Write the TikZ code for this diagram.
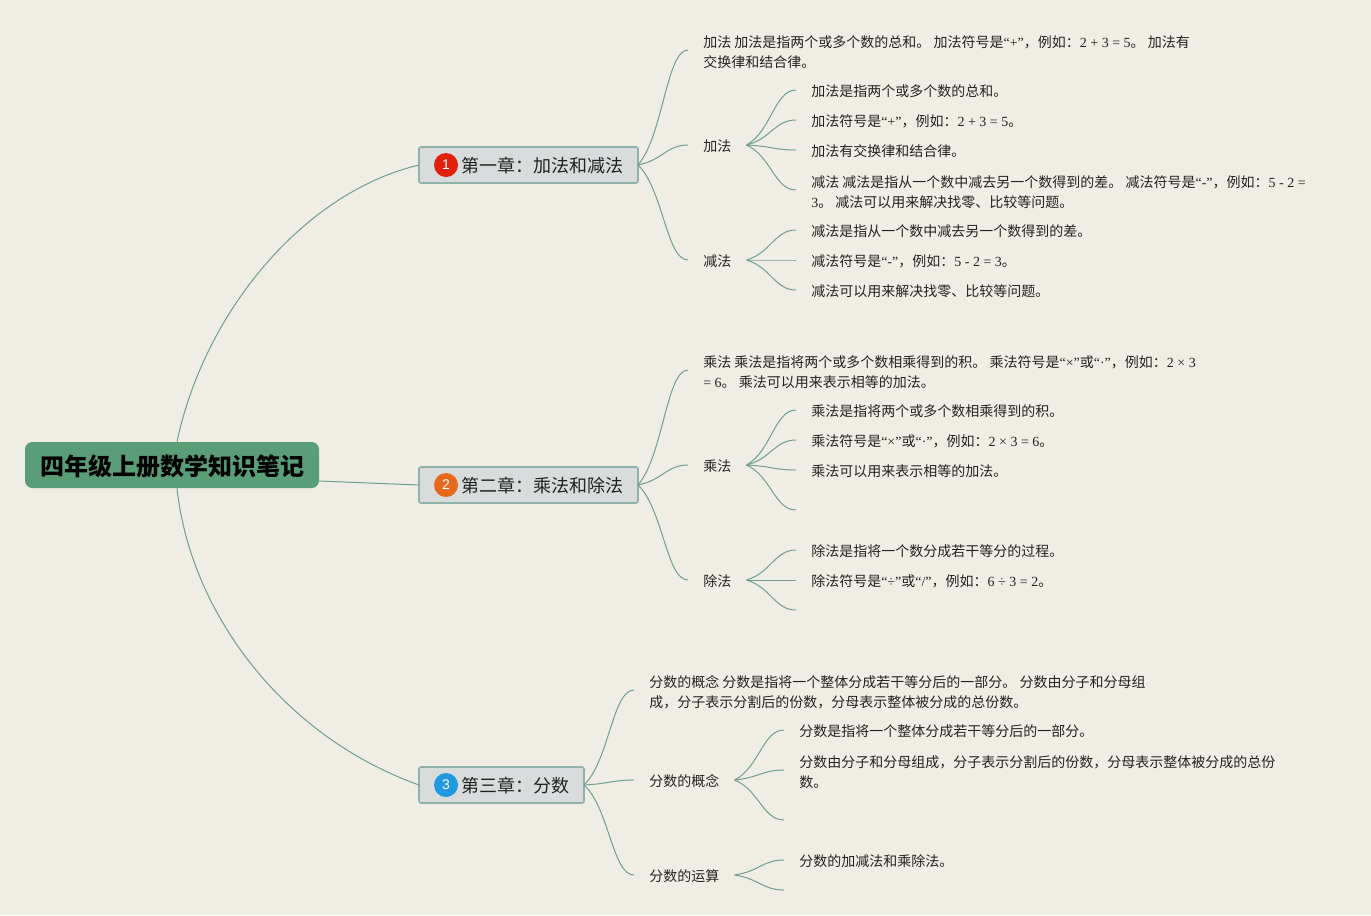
\documentclass[tikz,border=0pt]{standalone}
\usepackage{fontspec}
\setmainfont{Noto Sans CJK SC}
\newfontfamily\latinserif{Liberation Serif}
\newfontfamily\latinsans{Liberation Sans}
\newcommand{\T}[1]{{\latinserif #1}}
\newcommand{\dou}{\char"FF0C\relax}
\newcommand{\mao}{\char"FF1A\relax}
\newcommand{\Z}{\rule[-2pt]{0pt}{12.5pt}}
\newcommand{\Zt}{\rule{0pt}{11pt}}
\usetikzlibrary{calc}
\definecolor{bgcol}{HTML}{F0EEE4}
\definecolor{linecol}{HTML}{6F9E90}
\definecolor{rootcol}{HTML}{5A9E78}
\definecolor{boxfill}{HTML}{D8DCDC}
\definecolor{boxline}{HTML}{8FB3AA}
\definecolor{iconA}{HTML}{E0200A}
\definecolor{iconB}{HTML}{E8691C}
\definecolor{iconC}{HTML}{1F9AE0}
\definecolor{inktext}{HTML}{222222}
\tikzset{
  conn/.style={draw=linecol,line width=0.75pt},
  rootbox/.style={fill=rootcol,rounded corners=5.5pt,minimum width=220.5pt,minimum height=34.5pt,inner sep=0pt,text height=18pt,text depth=2.6pt,font=\fontsize{18pt}{22pt}\selectfont\bfseries,text=black},
  chapbox/.style={anchor=west,outer sep=0pt,draw=boxline,line width=1.2pt,fill=boxfill,rounded corners=1.5pt,minimum height=27pt,inner xsep=11.25pt,inner ysep=0pt,text height=14pt,text depth=2.2pt,font=\fontsize{13.5pt}{16pt}\selectfont,text=inktext},
  iconmark/.style={circle,minimum size=18pt,inner sep=0pt,text=white,font=\latinsans\fontsize{10.5pt}{12pt}\selectfont},
  topic/.style={anchor=west,yshift=-0.75pt,inner xsep=11.25pt,inner ysep=2pt,align=left,font=\fontsize{10.5pt}{15pt}\selectfont,text=inktext,execute at begin node=\Z},
}
\newcommand{\conn}[3][0.75pt]{\draw[conn] let \p1=([yshift=#1]#2),\p2=([yshift=0.75pt]#3) in (\p1) .. controls ({\x1+0.5*(\x2-\x1)},{\y1+0.25*(\y2-\y1)}) and ({\x1+0.57*(\x2-\x1)},\y2) .. (\p2);}
\begin{document}
\begin{tikzpicture}[x=0.75pt,y=-0.75pt]
\path[fill=bgcol,use as bounding box] (0,0) rectangle (1371,915);
% root
\node[rootbox] (root) at (172,465) {四年级上册数学知识笔记};
% chapters
\node[chapbox] (c1) at (419,165) {\hspace*{20.25pt}第一章\mao{}加法和减法};
\node[chapbox] (c2) at (419,485) {\hspace*{20.25pt}第二章\mao{}乘法和除法};
\node[chapbox] (c3) at (419,785) {\hspace*{20.25pt}第三章\mao{}分数};
\node[iconmark,fill=iconA] (i1) at (446,165) {1};
\node[iconmark,fill=iconB] (i2) at (446,485) {2};
\node[iconmark,fill=iconC] (i3) at (446,785) {3};
% chapter 1
\node[topic] (a1) at (688,50) {\Zt{}加法 加法是指两个或多个数的总和。 加法符号是\T{“+”}\dou{}例如\mao{}\T{2 + 3 = 5}。 加法有\\\Z{}交换律和结合律。};
\node[topic] (a2) at (688,145) {加法};
\node[topic] (a3) at (688,260) {减法};
\node[topic] (a21) at (796,90) {加法是指两个或多个数的总和。};
\node[topic] (a22) at (796,120) {加法符号是\T{“+”}\dou{}例如\mao{}\T{2 + 3 = 5}。};
\node[topic] (a23) at (796,150) {加法有交换律和结合律。};
\node[topic] (a24) at (796,190) {\Zt{}减法 减法是指从一个数中减去另一个数得到的差。 减法符号是\T{“-”}\dou{}例如\mao{}\T{5 - 2 =}\\\Z{}\T{3}。 减法可以用来解决找零、比较等问题。};
\node[topic] (a31) at (796,230) {减法是指从一个数中减去另一个数得到的差。};
\node[topic] (a32) at (796,260) {减法符号是\T{“-”}\dou{}例如\mao{}\T{5 - 2 = 3}。};
\node[topic] (a33) at (796,290) {减法可以用来解决找零、比较等问题。};
% chapter 2
\node[topic] (b1) at (688,370) {\Zt{}乘法 乘法是指将两个或多个数相乘得到的积。 乘法符号是\T{“×”}或\T{“·”}\dou{}例如\mao{}\T{2 × 3}\\\Z{}\T{= 6}。 乘法可以用来表示相等的加法。};
\node[topic] (b2) at (688,465) {乘法};
\node[topic] (b3) at (688,580) {除法};
\node[topic] (b21) at (796,410) {乘法是指将两个或多个数相乘得到的积。};
\node[topic] (b22) at (796,440) {乘法符号是\T{“×”}或\T{“·”}\dou{}例如\mao{}\T{2 × 3 = 6}。};
\node[topic] (b23) at (796,470) {乘法可以用来表示相等的加法。};
\coordinate (b24) at (796,511);
\node[topic] (b31) at (796,550) {除法是指将一个数分成若干等分的过程。};
\node[topic] (b32) at (796,580) {除法符号是\T{“÷”}或\T{“/”}\dou{}例如\mao{}\T{6 ÷ 3 = 2}。};
\coordinate (b33) at (796,611);
% chapter 3
\node[topic] (s1) at (634,690) {\Zt{}分数的概念 分数是指将一个整体分成若干等分后的一部分。 分数由分子和分母组\\\Z{}成\dou{}分子表示分割后的份数\dou{}分母表示整体被分成的总份数。};
\node[topic] (s2) at (634,780) {分数的概念};
\node[topic] (s3) at (634,875) {分数的运算};
\node[topic] (s21) at (784,730) {分数是指将一个整体分成若干等分后的一部分。};
\node[topic] (s22) at (784,770) {\Zt{}分数由分子和分母组成\dou{}分子表示分割后的份数\dou{}分母表示整体被分成的总份\\\Z{}数。};
\coordinate (s23) at (784,821);
\node[topic] (s31) at (784,860) {分数的加减法和乘除法。};
\coordinate (s32) at (784,891);
% root connectors
\draw[conn] ([xshift=3.75pt]root.north) .. controls (205,310) and (305,192) .. (c1.west);
\draw[conn] ([yshift=-12pt]root.east) -- (c2.west);
\draw[conn] ([xshift=3.75pt]root.south) .. controls (190,610) and (280,735) .. (c3.west);
% branch connectors
\foreach \src/\dst in {c1/a1,c1/a2,c1/a3,c2/b1,c2/b2,c2/b3,c3/s1,c3/s2,c3/s3}{
  \conn[0pt]{\src.east}{\dst.west}
}
\foreach \src/\dst in {a2/a21,a2/a22,a2/a23,a2/a24,a3/a31,a3/a32,a3/a33,
  b2/b21,b2/b22,b2/b23,b3/b31,b3/b32,s2/s21,s2/s22,s3/s31}{
  \conn{\src.east}{\dst.west}
}
\conn{b2.east}{b24}
\conn{b3.east}{b33}
\conn{s2.east}{s23}
\conn{s3.east}{s32}
\end{tikzpicture}
\end{document}
